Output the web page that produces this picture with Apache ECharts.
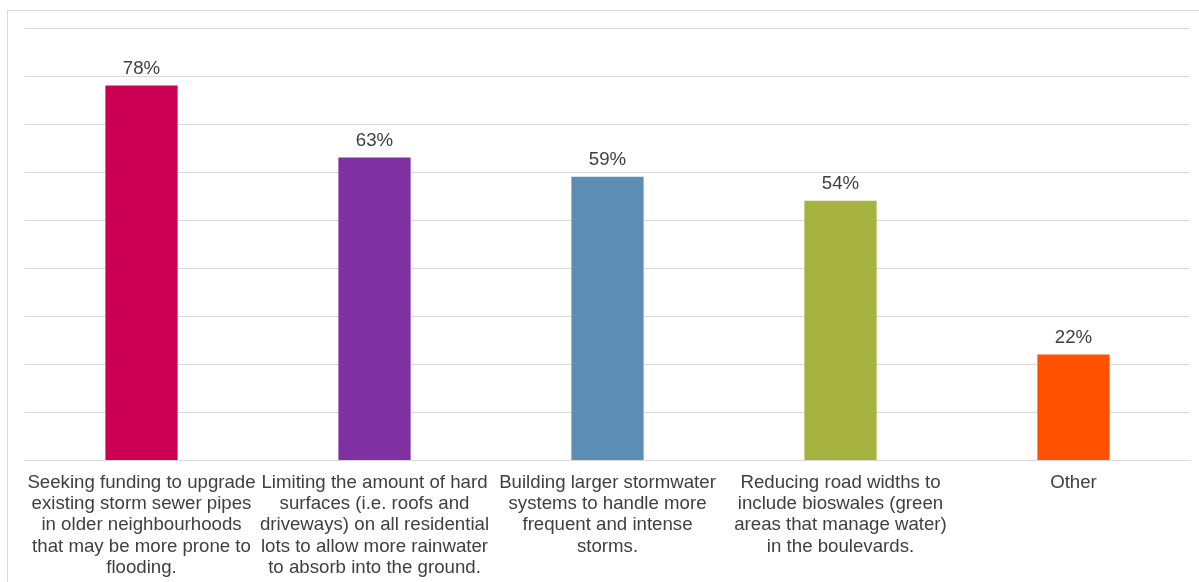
<!DOCTYPE html>
<html>
<head>
<meta charset="utf-8">
<style>
  html, body { margin: 0; padding: 0; background: #ffffff; }
  #chart { width: 1199px; height: 582px; }
</style>
<script src="https://cdn.jsdelivr.net/npm/echarts@6/dist/echarts.min.js"></script>
</head>
<body>
<div id="chart"></div>
<script>
// Survey responses: share of respondents supporting each stormwater measure
const categories = [
  'Seeking funding to upgrade\nexisting storm sewer pipes\nin older neighbourhoods\nthat may be more prone to\nflooding.',
  'Limiting the amount of hard\nsurfaces (i.e. roofs and\ndriveways) on all residential\nlots to allow more rainwater\nto absorb into the ground.',
  'Building larger stormwater\nsystems to handle more\nfrequent and intense\nstorms.',
  'Reducing road widths to\ninclude bioswales (green\nareas that manage water)\nin the boulevards.',
  'Other'
];
const values = [78, 63, 59, 54, 22];
const barColors = ['#cc0052', '#7f30a1', '#5e8db4', '#a6b23f', '#ff5100'];

const textColor = '#404040';
const fontFamily = 'Liberation Sans, Arial, sans-serif';
const fontSize = 18.67;

const chart = echarts.init(document.getElementById('chart'), null, { renderer: 'canvas' });

chart.setOption({
  backgroundColor: '#ffffff',
  animation: false,
  graphic: [{
    type: 'rect',
    silent: true,
    shape: { x: 7.5, y: 10.5, width: 1400, height: 800 },
    style: { fill: 'none', stroke: '#d9d9d9', lineWidth: 1 }
  }],
  grid: { left: 25, right: 9, top: 28, bottom: 122 },
  xAxis: {
    type: 'category',
    data: categories,
    axisTick: { show: false },
    axisLine: { show: true, lineStyle: { color: '#d9d9d9', width: 1 } },
    axisLabel: {
      interval: 0,
      margin: 12,
      color: textColor,
      fontFamily: fontFamily,
      fontSize: fontSize,
      lineHeight: 21.3,
      align: 'center'
    }
  },
  yAxis: {
    type: 'value',
    min: 0,
    max: 90,
    interval: 10,
    axisLabel: { show: false },
    axisLine: { show: false },
    axisTick: { show: false },
    splitLine: { show: true, lineStyle: { color: '#d9d9d9', width: 1 } }
  },
  series: [{
    type: 'bar',
    barWidth: '31%',
    data: values.map((v, i) => ({ value: v, itemStyle: { color: barColors[i] } })),
    label: {
      show: true,
      position: 'top',
      distance: 7,
      formatter: '{c}%',
      color: textColor,
      fontFamily: fontFamily,
      fontSize: fontSize
    }
  }]
});
</script>
</body>
</html>
